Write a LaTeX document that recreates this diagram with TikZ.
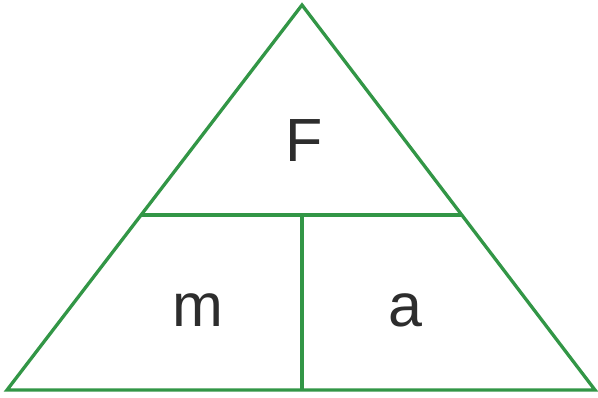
\documentclass[tikz,border=0pt]{standalone}
\usepackage{fontspec}
\setmainfont{Liberation Sans}
\definecolor{lineg}{RGB}{50,150,70}
\definecolor{txt}{RGB}{45,45,45}
\tikzset{
  edge/.style={draw=lineg, line width=3.3pt, line join=miter},
  lbl/.style={text=txt, font=\fontsize{61}{64}\selectfont, inner sep=0pt}
}
\begin{document}
\begin{tikzpicture}[x=1pt,y=-1pt]
\useasboundingbox (0,0) rectangle (598,397);
\coordinate (top) at (302,5);
\coordinate (bl) at (7,390);
\coordinate (br) at (595,390);
\coordinate (ml) at (141,215);
\coordinate (mr) at (462,215);
\coordinate (mm) at (302,215);
\coordinate (mb) at (302,390);
\draw[edge] (top) -- (br) -- (bl) -- cycle;
\draw[edge] (ml) -- (mr);
\draw[edge] (mm) -- (mb);
\node[lbl] (F) at (304,141) {F};
\node[lbl] (m) at (198,310) {m};
\node[lbl] (a) at (405,310) {a};
\end{tikzpicture}
\end{document}
